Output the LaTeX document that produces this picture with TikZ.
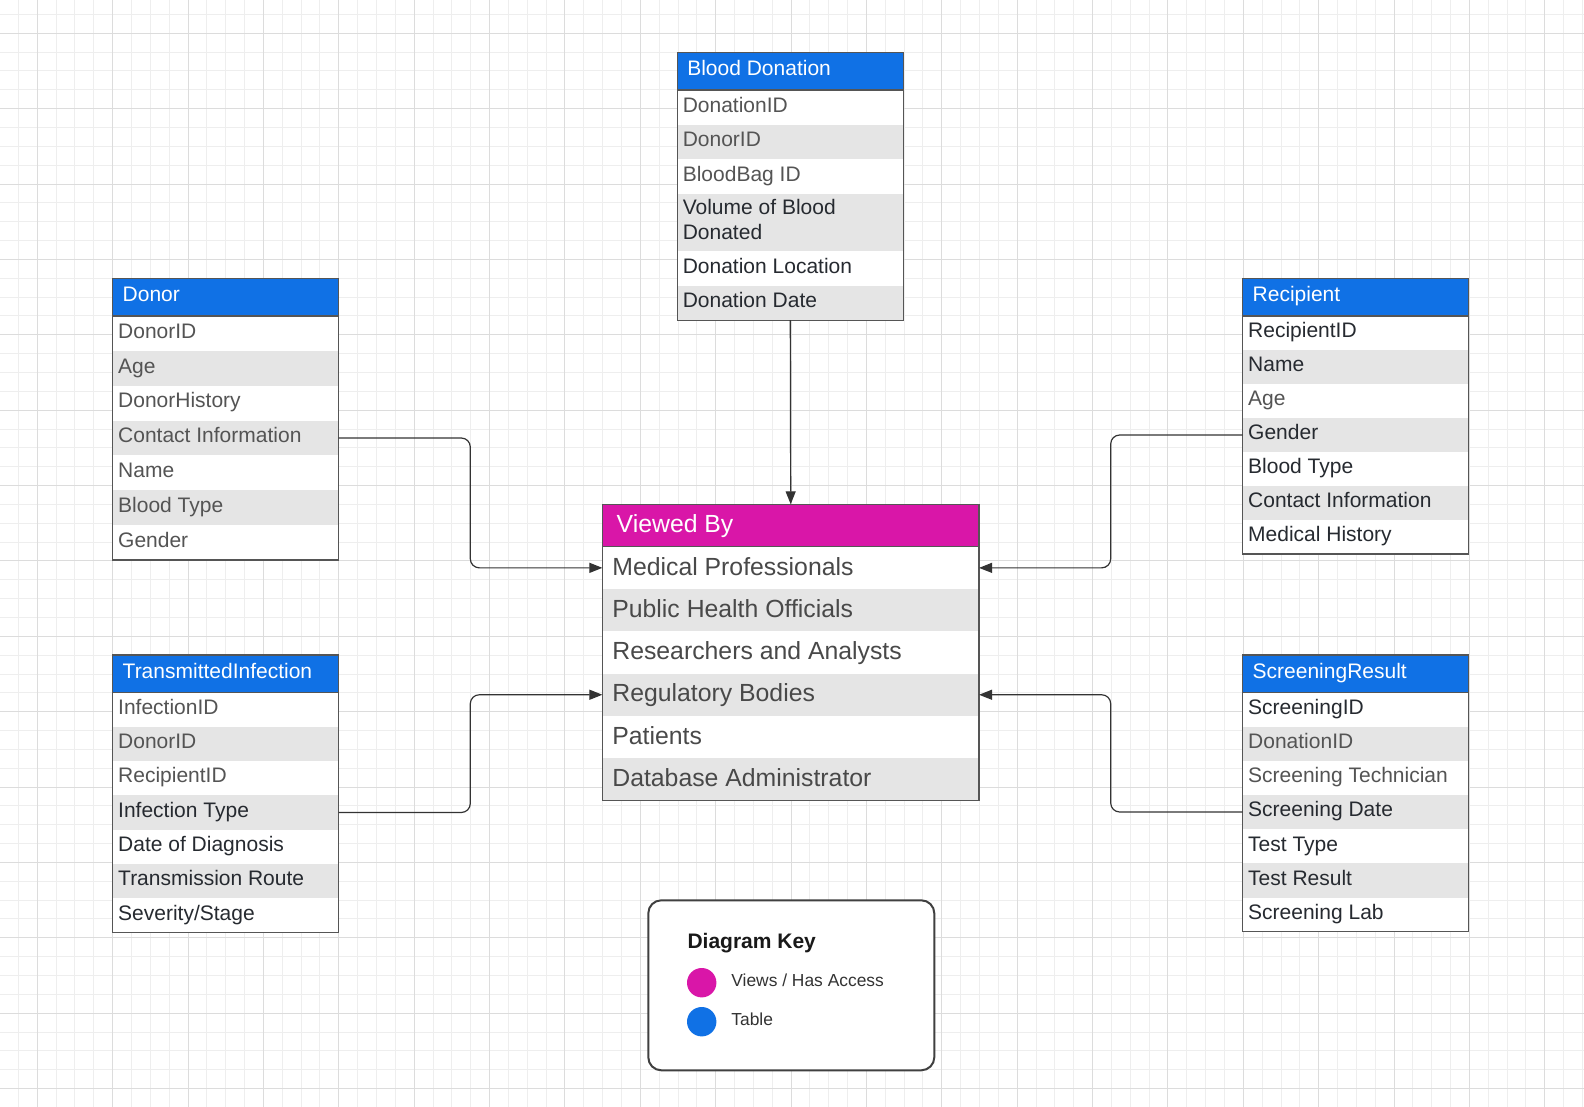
\documentclass[tikz,border=0pt]{standalone}
\usepackage{fontspec}
\setmainfont{Liberation Sans}
\usetikzlibrary{positioning,arrows.meta}
\definecolor{tblblue}{HTML}{1071E5}
\definecolor{viewpink}{HTML}{D916A8}
\definecolor{rowgray}{HTML}{E5E5E5}
\definecolor{txtlite}{HTML}{545454}
\definecolor{txtmid}{HTML}{494949}
\definecolor{txtdark}{HTML}{262A30}
\definecolor{edgegray}{HTML}{555555}
\definecolor{gridmin}{HTML}{EEEEEE}
\definecolor{gridmaj}{HTML}{DCDCDC}
\def\rowh{34.4}
\tikzstyle{cell}=[execute at begin node={\hbox to #1\bgroup},
    execute at end node={\hfil\egroup}]
\tikzstyle{tbl head}=[anchor=north west, fill=tblblue, text=white, cell=206pt,
    inner xsep=10, inner ysep=0, outer sep=0, minimum height=37.5,
    text height=14.7pt, text depth=5.7pt, font=\fontsize{21}{25}\selectfont]
\tikzstyle{tbl row}=[anchor=north west, cell=215pt, inner xsep=5.5,
    inner ysep=0, outer sep=0, minimum height=\rowh,
    text height=14.7pt, text depth=5.1pt, font=\fontsize{21}{24.7}\selectfont]
\tikzstyle{tall}=[minimum height=57.5, text height=14.7pt, text depth=29.8pt]
\tikzstyle{view head}=[anchor=north west, fill=viewpink, text=white,
    cell=348pt, inner xsep=14.4, inner ysep=0, outer sep=0,
    minimum height=42.4, text height=17.9pt, text depth=3.5pt,
    font=\fontsize{24.8}{30}\selectfont]
\tikzstyle{view row}=[anchor=north west, cell=356.7pt, inner xsep=10,
    inner ysep=0, outer sep=0, minimum height=42.3, text height=17.9pt,
    text depth=3.5pt, font=\fontsize{24.8}{30}\selectfont]
\tikzstyle{tbl frame}=[draw=edgegray, line width=1.4]
\tikzstyle{link}=[draw=black!80, line width=1.2, rounded corners=9,
    -{Triangle[length=13,width=10]}]
\tikzstyle{key box}=[anchor=north west, draw=black!75, line width=2, fill=white,
    rounded corners=13, minimum width=286, minimum height=170]
\tikzstyle{key dot}=[circle, minimum size=29.4, inner sep=0]
\tikzstyle{key text}=[inner sep=0, text=black!80, text height=12.5pt,
    text depth=4.5pt, font=\fontsize{17.4}{21}\selectfont]

\begin{document}
\begin{tikzpicture}[x=1pt, y=-1pt]
  \useasboundingbox (0,0) rectangle (1584,1107);
  \fill[white] (0,0) rectangle (1584,1107);
  % grid
  \foreach \k in {-1,...,82}
    \draw[gridmin, line width=1] ({37.3+18.844*\k},0) -- ++(0,1107);
  \foreach \k in {-1,...,57}
    \draw[gridmin, line width=1] (0,{33.3+18.844*\k}) -- ++(1584,0);
  \foreach \k in {0,...,20}
    \draw[gridmaj, line width=1] ({37.3+75.375*\k},0) -- ++(0,1107);
  \foreach \k in {0,...,14}
    \draw[gridmaj, line width=1] (0,{33.3+75.375*\k}) -- ++(1584,0);

  % Blood Donation
  \def\rowh{34.5}
  \node[tbl head] (bd-h) at (677.3,52.7) {Blood Donation};
  \foreach \t/\col/\s [count=\i, remember=\i as \p (initially h)] in
    {DonationID/txtlite/, DonorID/txtlite/, BloodBag ID/txtlite/,
     {\vtop{\hbox{Volume of Blood}\hbox{Donated}}}/txtdark/tall,
     Donation Location/txtdark/, Donation Date/txtdark/}{
    \ifodd\i \def\f{white}\else \def\f{rowgray}\fi
    \node[tbl row, \s, fill=\f, text=\col, below=0pt of bd-\p] (bd-\i) {\t};
  }
  \draw[tbl frame] (bd-h.north west) rectangle (bd-6.south east);
  \draw[tbl frame] (bd-h.south west) -- (bd-h.south east);

  % Donor
  \def\rowh{34.86}
  \node[tbl head, minimum height=37.7] (don-h) at (112.7,278.3) {Donor};
  \foreach \t/\col [count=\i, remember=\i as \p (initially h)] in
    {DonorID/txtlite, Age/txtlite, DonorHistory/txtlite,
     Contact Information/txtlite, Name/txtlite, Blood Type/txtlite,
     Gender/txtlite}{
    \ifodd\i \def\f{white}\else \def\f{rowgray}\fi
    \node[tbl row, fill=\f, text=\col, below=0pt of don-\p] (don-\i) {\t};
  }
  \draw[tbl frame] (don-h.north west) rectangle (don-7.south east);
  \draw[tbl frame] (don-h.south west) -- (don-h.south east);

  % Recipient
  \def\rowh{34.0}
  \node[tbl head, minimum height=37.7] (rec-h) at (1242.7,278.3) {Recipient};
  \foreach \t/\col [count=\i, remember=\i as \p (initially h)] in
    {RecipientID/txtdark, Name/txtdark, Age/txtlite, Gender/txtdark,
     Blood Type/txtdark, Contact Information/txtdark,
     Medical History/txtdark}{
    \ifodd\i \def\f{white}\else \def\f{rowgray}\fi
    \node[tbl row, fill=\f, text=\col, below=0pt of rec-\p] (rec-\i) {\t};
  }
  \draw[tbl frame] (rec-h.north west) rectangle (rec-7.south east);
  \draw[tbl frame] (rec-h.south west) -- (rec-h.south east);

  % TransmittedInfection
  \def\rowh{34.34}
  \node[tbl head, minimum height=37.3] (ti-h) at (112.7,655) {TransmittedInfection};
  \foreach \t/\col [count=\i, remember=\i as \p (initially h)] in
    {InfectionID/txtlite, DonorID/txtlite, RecipientID/txtlite,
     Infection Type/txtdark, Date of Diagnosis/txtdark,
     Transmission Route/txtdark, {Severity/Stage}/txtdark}{
    \ifodd\i \def\f{white}\else \def\f{rowgray}\fi
    \node[tbl row, fill=\f, text=\col, below=0pt of ti-\p] (ti-\i) {\t};
  }
  \draw[tbl frame] (ti-h.north west) rectangle (ti-7.south east);
  \draw[tbl frame] (ti-h.south west) -- (ti-h.south east);

  % ScreeningResult
  \def\rowh{34.2}
  \node[tbl head, minimum height=37.3] (scr-h) at (1242.7,655) {ScreeningResult};
  \foreach \t/\col [count=\i, remember=\i as \p (initially h)] in
    {ScreeningID/txtdark, DonationID/txtlite, Screening Technician/txtlite,
     Screening Date/txtdark, Test Type/txtdark, Test Result/txtdark,
     Screening Lab/txtdark}{
    \ifodd\i \def\f{white}\else \def\f{rowgray}\fi
    \node[tbl row, fill=\f, text=\col, below=0pt of scr-\p] (scr-\i) {\t};
  }
  \draw[tbl frame] (scr-h.north west) rectangle (scr-7.south east);
  \draw[tbl frame] (scr-h.south west) -- (scr-h.south east);

  % Viewed By
  \node[view head] (vb-h) at (602.3,504.3) {Viewed By};
  \foreach \t [count=\i, remember=\i as \p (initially h)] in
    {Medical Professionals, Public Health Officials,
     Researchers and Analysts, Regulatory Bodies, Patients,
     Database Administrator}{
    \ifodd\i \def\f{white}\else \def\f{rowgray}\fi
    \node[view row, fill=\f, text=txtmid, below=0pt of vb-\p] (vb-\i) {\t};
  }
  \draw[tbl frame] (vb-h.north west) rectangle (vb-6.south east);
  \draw[tbl frame] (vb-h.south west) -- (vb-h.south east);

  % links
  \draw[link] (bd-6.south) -- (vb-h.north);
  \draw[link] (don-4.east) -- ++(131.6,0) |- (vb-1.west);
  \draw[link] (ti-4.east) -- ++(131.6,0) |- (vb-4.west);
  \draw[link] (rec-4.west) -- ++(-132,0) |- (vb-1.east);
  \draw[link] (scr-4.west) -- ++(-132,0) |- (vb-4.east);

  % key
  \node[key box] (key) at (647.3,899.3) {};
  \node[anchor=base west, inner sep=0, text=black!90,
    font=\fontsize{21}{25}\selectfont\bfseries] (key-t) at (687.3,948.3) {Diagram Key};
  \node[key dot, fill=viewpink] (dot-v) at (701.7,982.7) {};
  \node[key dot, fill=tblblue] (dot-t) at (701.7,1021.7) {};
  \node[key text, right=14.6pt of dot-v] (key-v) {Views / Has Access};
  \node[key text, right=14.6pt of dot-t] (key-tb) {Table};
\end{tikzpicture}
\end{document}
